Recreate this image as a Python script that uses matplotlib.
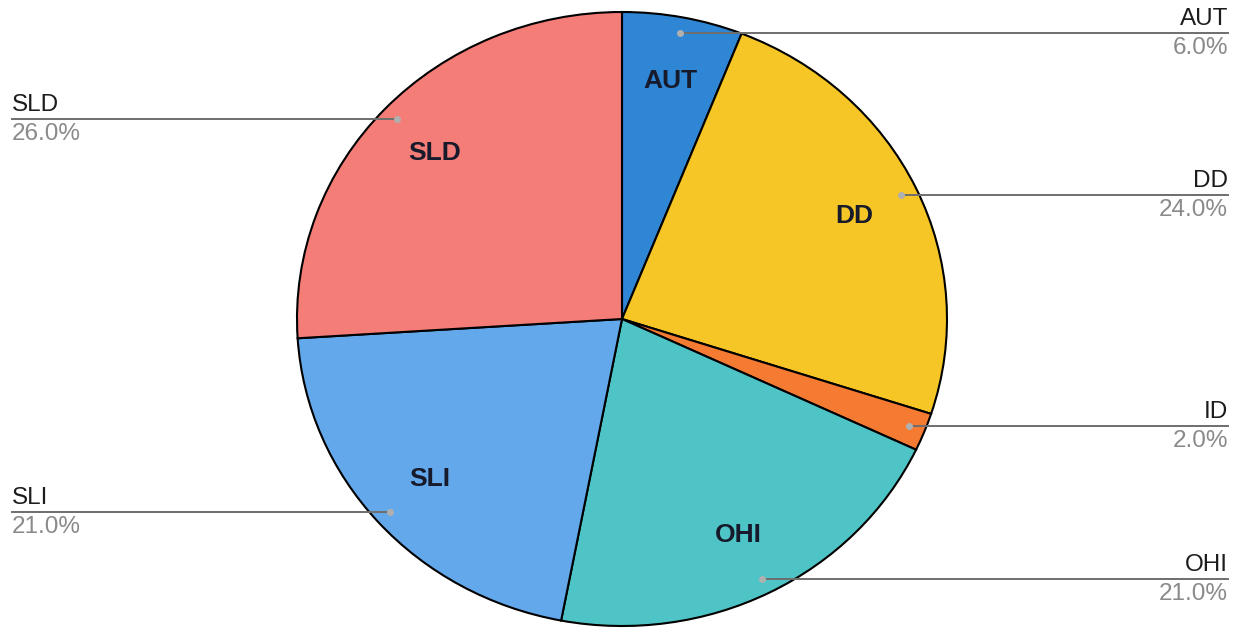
import numpy as np
import matplotlib.pyplot as plt

plt.rcParams['font.family'] = ['Liberation Sans', 'DejaVu Sans']

# data
labels = ["AUT", "DD", "ID", "OHI", "SLI", "SLD"]
values = [6.0, 24.0, 2.0, 21.0, 21.0, 26.0]
colors = ["#2f86d4", "#f6c526", "#f57a32", "#4fc4c6", "#62a8ea", "#f57d78"]
inner_labels = ["AUT", "DD", "", "OHI", "SLI", "SLD"]

W, H = 1244, 630
fig = plt.figure(figsize=(W / 100, H / 100), dpi=100)

# pie axes (scan is a little squashed vertically, so aspect auto)
ax = fig.add_axes([297 / W, 4 / H, 650 / W, 614 / H])
wedges, _ = ax.pie(values, colors=colors, startangle=90, counterclock=False,
                   radius=1, wedgeprops=dict(edgecolor="black", linewidth=1.5))
ax.set_aspect("auto")
ax.set_xlim(-1, 1)
ax.set_ylim(-1, 1)

# overlay in pixel coords for leader lines and outer labels
ov = fig.add_axes([0, 0, 1, 1])
ov.set_xlim(0, W)
ov.set_ylim(H, 0)
ov.axis("off")

def to_px(x, y):
    disp = ax.transData.transform((x, y))
    return ov.transData.inverted().transform(disp)

for w, name, inner, v in zip(wedges, labels, inner_labels, values):
    mid = np.deg2rad((w.theta1 + w.theta2) / 2)
    c, s = np.cos(mid), np.sin(mid)
    if inner:
        ax.text(0.79 * c, 0.79 * s, inner, ha="center", va="center",
                fontsize=19, fontweight="bold", color="#161a2a")
    px, py = to_px(0.95 * c, 0.95 * s)
    if c > 0:
        xe, ha = 1228, "right"
    else:
        xe, ha = 12, "left"
    ov.plot([px, xe], [py, py], color="#6e6e6e", lw=1.4)
    ov.plot(px, py, "o", ms=4, color="#b0b0b0")
    ov.text(xe, py - 3, name, ha=ha, va="bottom", fontsize=17.5, color="#1c1c1c")
    ov.text(xe, py + 4, f"{v:.1f}%", ha=ha, va="top", fontsize=17.5, color="#8a8a8a")

fig.savefig("out.png", dpi=100)
